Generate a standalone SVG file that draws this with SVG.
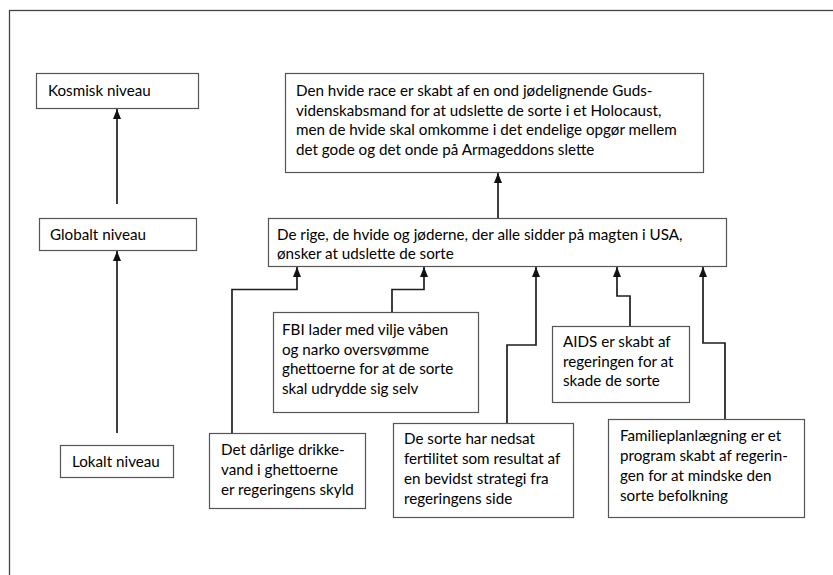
<svg xmlns="http://www.w3.org/2000/svg" width="833" height="575" viewBox="0 0 833 575">
<style>
.box{fill:#fff;stroke:#555;stroke-width:1.2}
.t{font-family:Lato,"Open Sans","Liberation Sans",sans-serif;font-size:15.2px;fill:#000}
.c{fill:none;stroke:#1e1e1e;stroke-width:1.7}
</style>
<defs>
<marker id="ah" markerUnits="userSpaceOnUse" markerWidth="10" markerHeight="8" viewBox="0 0 10 8" refX="10" refY="4" orient="auto">
<path d="M0,0 L10,4 L0,8 Z" fill="#111"/>
</marker>
</defs>
<rect x="0" y="0" width="833" height="575" fill="#fff"/>
<rect x="9.5" y="10.5" width="900" height="700" fill="none" stroke="#444" stroke-width="1.3"/>

<g id="connectors">
<path class="c" d="M117,204 V109" marker-end="url(#ah)"/>
<path class="c" d="M117,433 V251" marker-end="url(#ah)"/>
<path class="c" d="M498,218 V173" marker-end="url(#ah)"/>
<path class="c" d="M232,433 V289.5 H297 V267" marker-end="url(#ah)"/>
<path class="c" d="M392,312 V289.5 H424 V267" marker-end="url(#ah)"/>
<path class="c" d="M507,423 V345 H536 V267" marker-end="url(#ah)"/>
<path class="c" d="M630,326 V296 H617 V267" marker-end="url(#ah)"/>
<path class="c" d="M725,419 V343 H703 V267" marker-end="url(#ah)"/>
</g>

<g id="kosmisk">
<rect class="box" x="36.5" y="73.5" width="162" height="35"/>
<text class="t" x="48" y="96">Kosmisk niveau</text>
</g>
<g id="globalt">
<rect class="box" x="39.5" y="218.5" width="157" height="32"/>
<text class="t" x="50" y="240">Globalt niveau</text>
</g>
<g id="lokalt">
<rect class="box" x="60.5" y="445.5" width="113" height="32"/>
<text class="t" x="72" y="467">Lokalt niveau</text>
</g>
<g id="armageddon">
<rect class="box" x="285.5" y="73.5" width="418" height="99"/>
<text class="t"><tspan x="296" y="96">Den hvide race er skabt af en ond jødelignende Guds-</tspan><tspan x="296" y="115.5">videnskabsmand for at udslette de sorte i et Holocaust,</tspan><tspan x="296" y="135">men de hvide skal omkomme i det endelige opgør mellem</tspan><tspan x="296" y="154.5">det gode og det onde på Armageddons slette</tspan></text>
</g>
<g id="magten">
<rect class="box" x="268.5" y="218.5" width="458" height="48"/>
<text class="t"><tspan x="277" y="240">De rige, de hvide og jøderne, der alle sidder på magten i USA,</tspan><tspan x="277" y="259">ønsker at udslette de sorte</tspan></text>
</g>
<g id="fbi">
<rect class="box" x="273.5" y="312.5" width="205" height="100"/>
<text class="t"><tspan x="282" y="335">FBI lader med vilje våben</tspan><tspan x="282" y="354.5">og narko oversvømme</tspan><tspan x="282" y="374">ghettoerne for at de sorte</tspan><tspan x="282" y="393.5">skal udrydde sig selv</tspan></text>
</g>
<g id="aids">
<rect class="box" x="552.5" y="326.5" width="137" height="76"/>
<text class="t"><tspan x="563" y="347">AIDS er skabt af</tspan><tspan x="563" y="366.5">regeringen for at</tspan><tspan x="563" y="386">skade de sorte</tspan></text>
</g>
<g id="drikkevand">
<rect class="box" x="209.5" y="433.5" width="156" height="75"/>
<text class="t"><tspan x="221" y="455">Det dårlige drikke-</tspan><tspan x="221" y="475">vand i ghettoerne</tspan><tspan x="221" y="495">er regeringens skyld</tspan></text>
</g>
<g id="fertilitet">
<rect class="box" x="393.5" y="423.5" width="180" height="94"/>
<text class="t"><tspan x="404" y="444">De sorte har nedsat</tspan><tspan x="404" y="464">fertilitet som resultat af</tspan><tspan x="404" y="484">en bevidst strategi fra</tspan><tspan x="404" y="503.5">regeringens side</tspan></text>
</g>
<g id="familieplanlaegning">
<rect class="box" x="608.5" y="419.5" width="196" height="98"/>
<text class="t"><tspan x="620" y="441">Familieplanlægning er et</tspan><tspan x="620" y="461">program skabt af regerin-</tspan><tspan x="620" y="481">gen for at mindske den</tspan><tspan x="620" y="501">sorte befolkning</tspan></text>
</g>
</svg>
